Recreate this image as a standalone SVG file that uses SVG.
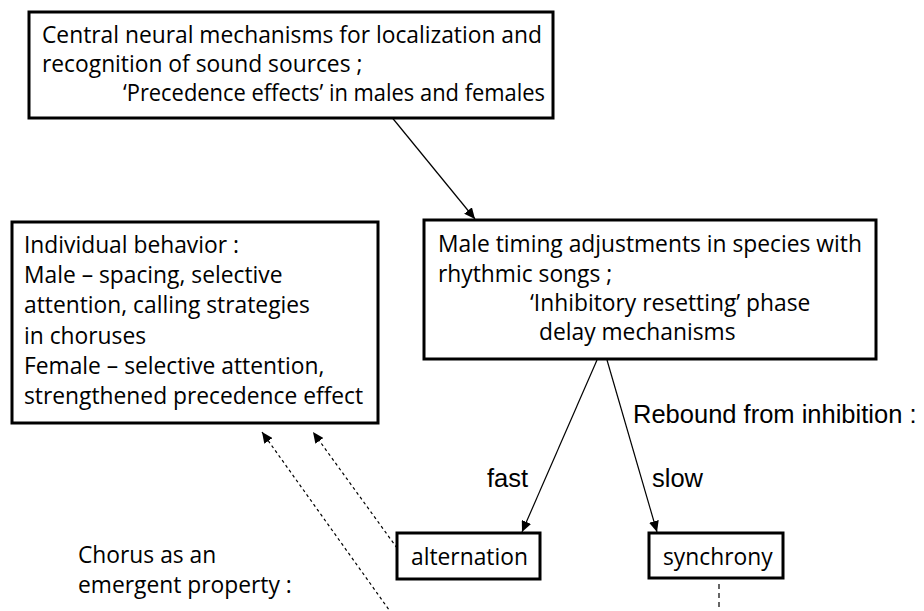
<svg xmlns="http://www.w3.org/2000/svg" width="924" height="611" viewBox="0 0 924 611">
<defs>
<marker id="ah" markerUnits="userSpaceOnUse" markerWidth="12" markerHeight="10" refX="11" refY="5" orient="auto">
<path d="M0,0 L11,5 L0,10 Z" fill="#000"/>
</marker>
<style>
.box{fill:#fff;stroke:#000;stroke-width:3}
.t{font-family:"Open Sans","Noto Sans",sans-serif;font-size:22.8px;fill:#000}
.a{font-family:"Liberation Sans",Arial,sans-serif;font-size:25.5px;fill:#000}
.c{fill:none;stroke:#000;stroke-width:1.2}
.d{fill:none;stroke:#000;stroke-width:1.2;stroke-dasharray:3 3}
.v{fill:none;stroke:#000;stroke-width:1.2;stroke-dasharray:5 4}
</style>
</defs>
<rect width="924" height="611" fill="#fff"/>
<g id="connectors">
<line class="c" x1="390" y1="115" x2="475" y2="219" marker-end="url(#ah)"/>
<line class="c" x1="597" y1="360" x2="522" y2="532" marker-end="url(#ah)"/>
<line class="c" x1="607" y1="360" x2="657" y2="532" marker-end="url(#ah)"/>
<line class="d" x1="397" y1="548" x2="313" y2="432" marker-end="url(#ah)"/>
<line class="d" x1="392" y1="614" x2="262" y2="432" marker-end="url(#ah)"/>
<line class="v" x1="719" y1="584" x2="719" y2="611"/>
</g>
<g id="node-central">
<rect class="box" x="29" y="12" width="524" height="106"/>
<text class="t" x="42" y="43">Central neural mechanisms for localization and</text>
<text class="t" x="42" y="72">recognition of sound sources ;</text>
<text class="t" x="123" y="101" textLength="422" lengthAdjust="spacingAndGlyphs">‘Precedence effects’ in males and females</text>
</g>
<g id="node-individual">
<rect class="box" x="12" y="222" width="366" height="201"/>
<text class="t" x="24" y="253">Individual behavior :</text>
<text class="t" x="24" y="283">Male – spacing, selective</text>
<text class="t" x="24" y="313">attention, calling strategies</text>
<text class="t" x="24" y="344">in choruses</text>
<text class="t" x="24" y="374">Female – selective attention,</text>
<text class="t" x="24" y="404">strengthened precedence effect</text>
</g>
<g id="node-male-timing">
<rect class="box" x="424" y="220" width="452" height="139"/>
<text class="t" x="438" y="252">Male timing adjustments in species with</text>
<text class="t" x="438" y="282">rhythmic songs ;</text>
<text class="t" x="530" y="311">‘Inhibitory resetting’ phase</text>
<text class="t" x="539" y="340">delay mechanisms</text>
</g>
<g id="labels">
<text class="a" x="633" y="423">Rebound from inhibition :</text>
<text class="a" x="487" y="487">fast</text>
<text class="a" x="652" y="487">slow</text>
</g>
<g id="node-alternation">
<rect class="box" x="397" y="533" width="143" height="46"/>
<text class="t" x="411" y="565">alternation</text>
</g>
<g id="node-synchrony">
<rect class="box" x="649" y="533" width="134" height="45"/>
<text class="t" x="663" y="565">synchrony</text>
</g>
<g id="node-chorus">
<text class="t" x="78" y="563">Chorus as an</text>
<text class="t" x="78" y="593">emergent property :</text>
</g>
</svg>
